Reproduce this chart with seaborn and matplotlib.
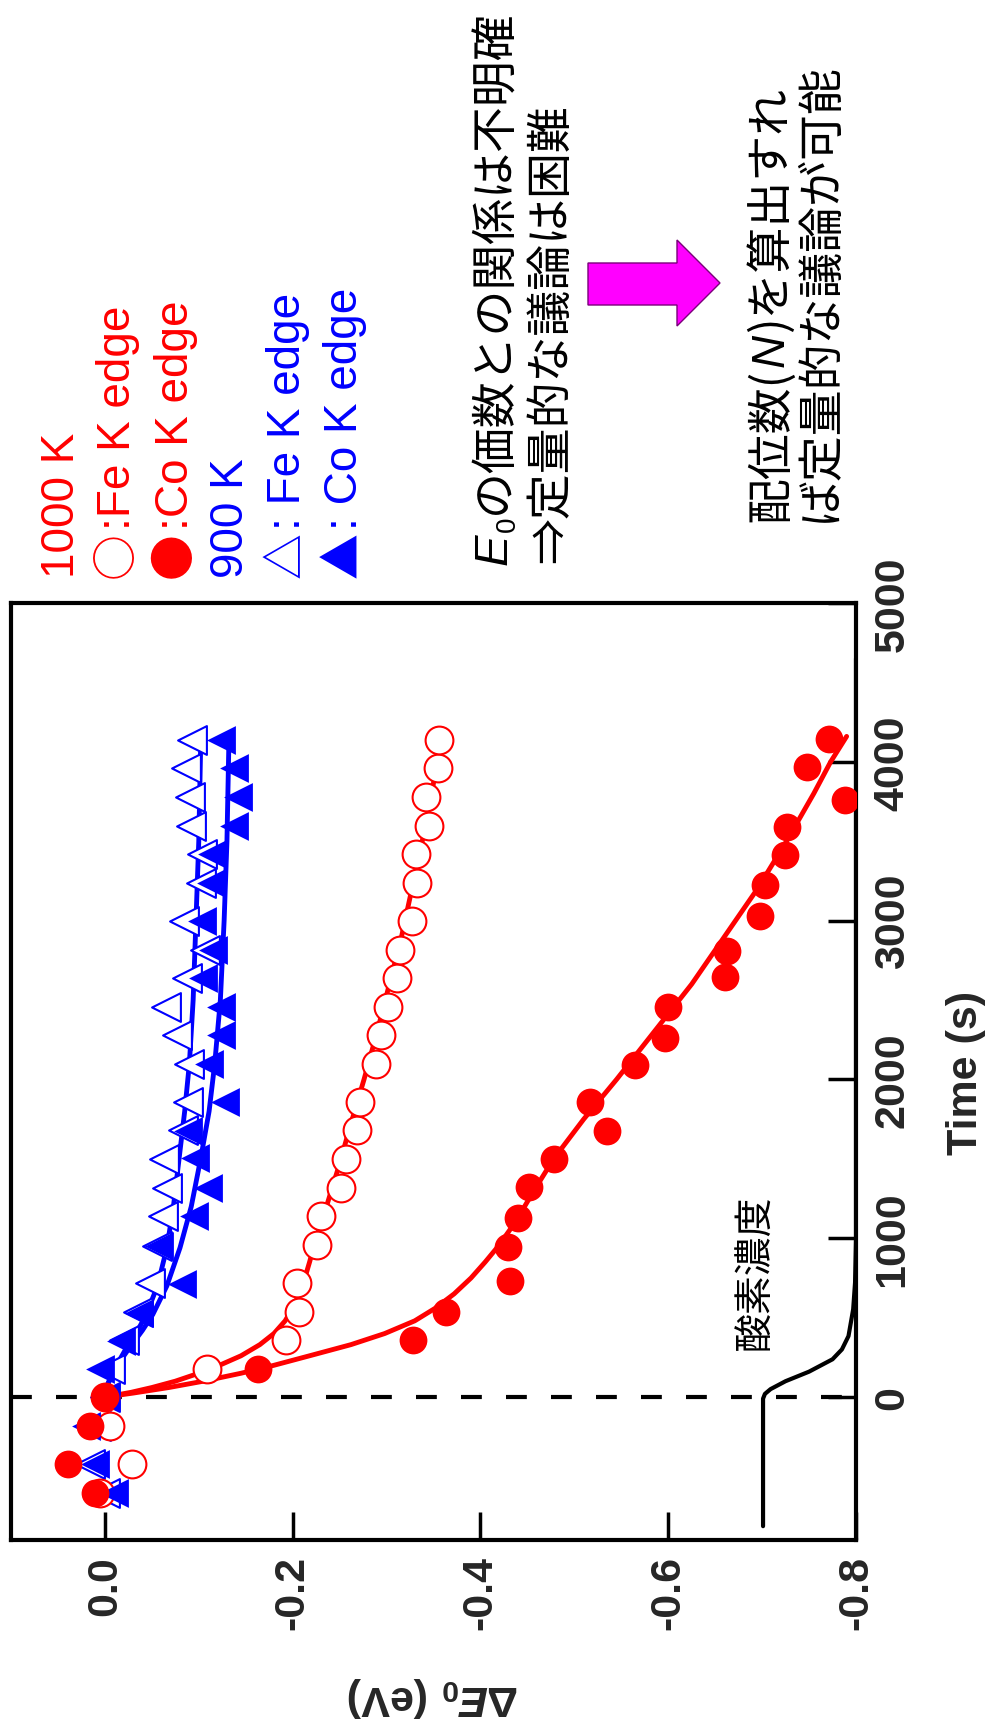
import matplotlib
matplotlib.use("Agg")
import matplotlib.pyplot as plt
from matplotlib.patches import Polygon
import seaborn as sns

# ---- data (time in s, dE0 in eV) ----
co1000_t = [-602, -424, -182, 0, 174, 357, 538, 733, 942, 1130, 1325, 1499, 1673, 1861,
            2090, 2264, 2459, 2647, 2807, 3030, 3225, 3413, 3587, 3761, 3970, 4144]
co1000_e = [0.011, 0.039, 0.016, 0.0, -0.163, -0.328, -0.363, -0.431, -0.429, -0.440, -0.452,
            -0.478, -0.535, -0.517, -0.565, -0.597, -0.600, -0.661, -0.663, -0.698, -0.703,
            -0.724, -0.726, -0.788, -0.748, -0.771]

fe1000_t = [-602, -424, -182, 0, 179, 357, 538, 721, 958, 1140, 1319, 1498, 1681, 1859,
            2096, 2279, 2457, 2638, 2817, 2996, 3237, 3418, 3598, 3777, 3960, 4138]
fe1000_e = [0.005, -0.029, -0.005, 0.0, -0.109, -0.193, -0.207, -0.205, -0.226, -0.230, -0.252,
            -0.257, -0.268, -0.272, -0.289, -0.294, -0.302, -0.311, -0.314, -0.327, -0.332,
            -0.331, -0.345, -0.342, -0.355, -0.356]

co900_t = [-602, -424, -182, 0, 174, 353, 532, 714, 951, 1140, 1318, 1508, 1676, 1859,
           2096, 2279, 2457, 2638, 2817, 2996, 3237, 3418, 3598, 3777, 3960, 4138]
co900_e = [-0.010, 0.011, 0.020, 0.0, 0.005, -0.017, -0.036, -0.082, -0.058, -0.095, -0.110,
           -0.096, -0.089, -0.128, -0.111, -0.124, -0.124, -0.105, -0.115, -0.103, -0.113,
           -0.114, -0.138, -0.142, -0.138, -0.124]

fe900_t = [-602, -424, -182, 0, 179, 357, 538, 721, 951, 1140, 1318, 1498, 1680, 1859,
           2096, 2279, 2457, 2638, 2817, 2996, 3237, 3418, 3598, 3777, 3960, 4138]
fe900_e = [0.0, 0.016, 0.010, 0.0, -0.005, -0.020, -0.035, -0.048, -0.055, -0.062, -0.066,
           -0.063, -0.083, -0.088, -0.090, -0.077, -0.065, -0.087, -0.107, -0.084, -0.102,
           -0.103, -0.092, -0.091, -0.086, -0.093]

# fitted curves
co1000_fit_t = [0, 25, 60, 100, 150, 200, 260, 330, 400, 480, 560, 650, 750, 850, 950, 1100,
                1300, 1500, 1750, 2000, 2300, 2600, 2900, 3200, 3500, 3800, 4000, 4160]
co1000_fit_e = [0, -0.030, -0.068, -0.105, -0.145, -0.180, -0.218, -0.262, -0.298, -0.330,
                -0.352, -0.372, -0.390, -0.405, -0.419, -0.437, -0.457, -0.478, -0.510, -0.545,
                -0.585, -0.625, -0.660, -0.695, -0.726, -0.755, -0.773, -0.790]

fe1000_fit_t = [0, 30, 60, 100, 150, 200, 260, 330, 400, 480, 560, 650, 750, 850, 1000, 1200,
                1450, 1700, 2000, 2300, 2600, 2900, 3200, 3500, 3800, 4000, 4140]
fe1000_fit_e = [0, -0.028, -0.050, -0.075, -0.100, -0.122, -0.145, -0.165, -0.180, -0.192,
                -0.200, -0.207, -0.213, -0.218, -0.225, -0.236, -0.249, -0.261, -0.276, -0.290,
                -0.303, -0.316, -0.327, -0.338, -0.348, -0.354, -0.358]

fit900_t = [0, 80, 174, 300, 420, 520, 700, 940, 1200, 1500, 1800, 2100, 2500, 3000, 3500, 4100]
fe900_fit_e = [0, -0.003, -0.010, -0.022, -0.035, -0.044, -0.056, -0.066, -0.073, -0.079,
               -0.085, -0.090, -0.094, -0.097, -0.100, -0.102]
co900_fit_e = [0, -0.003, -0.010, -0.025, -0.040, -0.051, -0.066, -0.080, -0.092, -0.102,
               -0.111, -0.117, -0.123, -0.127, -0.130, -0.132]

# oxygen concentration trace (drawn on the same scale)
o2_t = [-813, -400, -10, 20, 50, 100, 160, 238, 300, 384, 553, 721, 1000, 4650]
o2_e = [-0.701, -0.701, -0.701, -0.703, -0.709, -0.725, -0.750, -0.775, -0.785, -0.792,
        -0.797, -0.799, -0.800, -0.800]

e_ticks = [0.0, -0.2, -0.4, -0.6, -0.8]
e_tick_labels = ["0.0", "-0.2", "-0.4", "-0.6", "-0.8"]
t_ticks = [0, 1000, 2000, 3000, 4000, 5000]
t_tick_labels = ["0", "1000", "2000", "3000", "4000", "5000"]

legend_symbols = ["", "○", "●", "", "△", "▲"]
legend_texts = ["1000 K", ":Fe K edge", ":Co K edge", "900 K", ": Fe K edge", ": Co K edge"]
legend_colors = ["red", "red", "red", "blue", "blue", "blue"]

# ---- style ----
sns.set_style("ticks")
plt.rcParams["font.family"] = ["Liberation Sans", "DejaVu Sans"]
plt.rcParams["axes.unicode_minus"] = False
plt.rcParams["mathtext.fontset"] = "custom"
plt.rcParams["mathtext.rm"] = "Liberation Sans:bold"
plt.rcParams["mathtext.it"] = "Liberation Sans:italic:bold"
plt.rcParams["mathtext.bf"] = "Liberation Sans:bold"

W, H = 993, 1731
fig = plt.figure(figsize=(W / 100, H / 100), dpi=100)
# the whole chart is turned on its side: time runs upward, dE0 runs right
ax = fig.add_axes([11 / W, 190 / H, 845 / W, 937 / H])

ax.axhline(0, color="black", lw=3, ls=(0, (5, 5.8)), zorder=1)
sns.lineplot(x=o2_e, y=o2_t, sort=False, estimator=None, color="black", lw=3, ax=ax, zorder=2)

for t, e, c in [(co1000_fit_t, co1000_fit_e, "red"), (fe1000_fit_t, fe1000_fit_e, "red"),
                (fit900_t, fe900_fit_e, "blue"), (fit900_t, co900_fit_e, "blue")]:
    sns.lineplot(x=e, y=t, sort=False, estimator=None, color=c, lw=3.5, ax=ax, zorder=2)

sns.scatterplot(x=fe900_e, y=fe900_t, marker="<", s=430, facecolor="white", edgecolor="blue",
                linewidth=1.5, ax=ax, zorder=3, legend=False)
sns.scatterplot(x=co900_e, y=co900_t, marker="<", s=430, color="blue", edgecolor="blue",
                linewidth=0, ax=ax, zorder=4, legend=False)
sns.scatterplot(x=fe1000_e, y=fe1000_t, marker="o", s=400, facecolor="white", edgecolor="red",
                linewidth=1.5, ax=ax, zorder=3, legend=False)
sns.scatterplot(x=co1000_e, y=co1000_t, marker="o", s=400, color="red", edgecolor="red",
                linewidth=0, ax=ax, zorder=5, legend=False)

ax.set_xlim(0.1, -0.8)
ax.set_ylim(-900, 5000)
for s in ax.spines.values():
    s.set_linewidth(3)
    s.set_color("black")

ax.set_xticks(e_ticks, labels=e_tick_labels, rotation=90, fontsize=31, fontweight="bold")
ax.yaxis.tick_right()
ax.set_yticks(t_ticks, labels=t_tick_labels, rotation=90, va="center", fontsize=31,
              fontweight="bold")
ax.tick_params(axis="both", direction="in", length=20, width=2.5, color="black")
ax.tick_params(axis="x", pad=11)
ax.tick_params(axis="y", pad=12)

ax.set_xlabel(r"$\mathit{\Delta E}_\mathrm{0}\ \mathrm{(eV)}$", fontsize=31)
ax.xaxis.set_label_coords(0.5, -0.1665)
ax.xaxis.label.set(rotation=180, va="center", ha="center")
ax.set_ylabel("Time (s)", fontsize=31, fontweight="bold")
ax.yaxis.set_label_coords(1.130, 0.5)
ax.yaxis.label.set(rotation=90, va="center", ha="center", rotation_mode="default")

renderer = fig.canvas.get_renderer()


def vtext(x, y, pieces, color):
    """Write text reading bottom-to-top, starting at pixel (x, y) from the top-left."""
    ypos = H - y
    for s, props, dx in pieces:
        if not s:
            continue
        t = fig.text((x + dx) / W, ypos / H, s, color=color, rotation=90,
                     rotation_mode="anchor", ha="left", va="baseline", **props)
        ypos = t.get_window_extent(renderer).y1 + 2


latin = dict(family=["Liberation Sans", "DejaVu Sans"], fontsize=33)
symb = dict(family=["Noto Sans CJK JP", "DejaVu Sans"], fontsize=33)
cjk = dict(family=["Noto Sans CJK JP", "DejaVu Sans"], fontsize=33)

legend_x = [74, 130, 188, 243, 300, 357]
for x, sym, txt, col in zip(legend_x, legend_symbols, legend_texts, legend_colors):
    vtext(x, 578, [(sym, symb, 0), (txt, latin, 0)], col)

vtext(507, 565, [("E", dict(family=["Liberation Sans"], style="italic", fontsize=34), 0),
                 ("0", dict(family=["Liberation Sans"], fontsize=20), 8),
                 ("の価数との関係は不明確", cjk, 0)], "black")
vtext(564, 563, [("⇒定量的な議論は困難", cjk, 0)], "black")
vtext(784, 522, [("配位数(", cjk, 0),
                 ("N", dict(family=["Liberation Sans"], style="italic", fontsize=33), 0),
                 (")を算出すれ", cjk, 0)], "black")
vtext(834, 522, [("ば定量的な議論が可能", cjk, 0)], "black")
vtext(767, 1350, [("酸素濃度", dict(family=["Noto Sans CJK JP"], fontsize=28), 0)], "black")

arrow_px = [(588, 264), (677, 264), (677, 241), (720, 284), (677, 327), (677, 306), (588, 306)]
fig.patches.append(Polygon([(px / W, 1 - py / H) for px, py in arrow_px], closed=True,
                           transform=fig.transFigure, facecolor="#ff00ff",
                           edgecolor="#7a007a", lw=1))

fig.savefig("out.png", dpi=100)
